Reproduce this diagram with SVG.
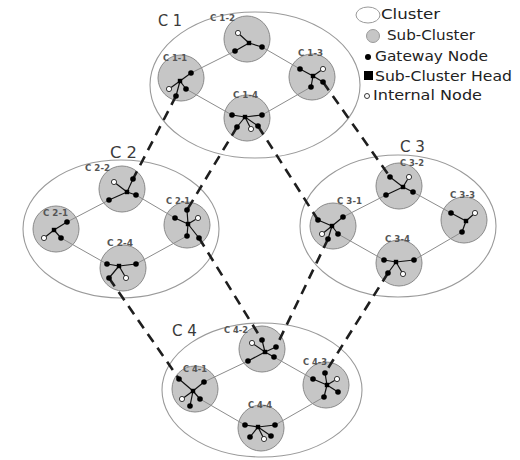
<svg xmlns="http://www.w3.org/2000/svg" width="520" height="460" viewBox="0 0 520 460">
  <style>
    .cluster { fill: #ffffff; stroke: #9a9a9a; stroke-width: 1.1; }
    .sub { fill: #c6c6c6; stroke: #8a8a8a; stroke-width: 1; }
    .clabel { font-family: "DejaVu Sans", Verdana, sans-serif; font-size: 15px; fill: #3a3a3a; }
    .slabel { font-family: "DejaVu Sans", Verdana, sans-serif; font-size: 8.5px; font-weight: bold; fill: #555555; }
    .edge { stroke: #111111; stroke-width: 1.2; fill: none; }
    .link { stroke: #8c8c8c; stroke-width: 1; fill: none; }
    .inter { stroke: #1e1e1e; stroke-width: 2.6; stroke-dasharray: 10 7; fill: none; }
    .gw { fill: #000000; }
    .in { fill: #ffffff; stroke: #222222; stroke-width: 0.9; }
    .head { fill: #000000; }
    .legend { font-family: "DejaVu Sans", Verdana, sans-serif; font-size: 13.5px; fill: #222222; }
  </style>
  <defs>
    <circle id="gw" r="2.8" class="gw"/>
    <circle id="in" r="2.6" class="in"/>
    <rect id="hd" x="-2.2" y="-2.2" width="4.4" height="4.4" class="head"/>
  </defs>

  <rect width="520" height="460" fill="#ffffff"/>

  <!-- clusters -->
  <g id="cluster-c1"><ellipse class="cluster" cx="255" cy="85" rx="105" ry="73"/><text class="clabel" x="158" y="26" textLength="24" lengthAdjust="spacingAndGlyphs">C 1</text></g>
  <g id="cluster-c2"><ellipse class="cluster" cx="121" cy="229" rx="98" ry="69"/><text class="clabel" x="110" y="158" textLength="27" lengthAdjust="spacingAndGlyphs">C 2</text></g>
  <g id="cluster-c3"><ellipse class="cluster" cx="398" cy="226" rx="98" ry="71"/><text class="clabel" x="400" y="152" textLength="25" lengthAdjust="spacingAndGlyphs">C 3</text></g>
  <g id="cluster-c4"><ellipse class="cluster" cx="262" cy="390" rx="100" ry="67"/><text class="clabel" x="172" y="336" textLength="25" lengthAdjust="spacingAndGlyphs">C 4</text></g>

  <!-- sub-cluster circles -->
  <g id="sub-circles">
    <circle class="sub" cx="181" cy="78" r="23"/>
    <circle class="sub" cx="247" cy="39" r="23"/>
    <circle class="sub" cx="312" cy="77" r="23"/>
    <circle class="sub" cx="247" cy="118" r="23"/>
    <circle class="sub" cx="56" cy="229" r="23"/>
    <circle class="sub" cx="122" cy="189" r="23"/>
    <circle class="sub" cx="187" cy="225" r="23"/>
    <circle class="sub" cx="123" cy="268" r="23"/>
    <circle class="sub" cx="399" cy="186" r="23"/>
    <circle class="sub" cx="333" cy="226" r="23"/>
    <circle class="sub" cx="464" cy="220" r="23"/>
    <circle class="sub" cx="399" cy="263" r="23"/>
    <circle class="sub" cx="262" cy="349" r="23"/>
    <circle class="sub" cx="195" cy="389" r="23"/>
    <circle class="sub" cx="326" cy="385" r="23"/>
    <circle class="sub" cx="261" cy="428" r="23"/>
  </g>

  <!-- connectors: links inside clusters and dashed links between clusters -->
  <g id="connectors">
    <line class="link" x1="191" y1="73" x2="235" y2="51"/>
    <line class="link" x1="262" y1="47" x2="300" y2="69"/>
    <line class="link" x1="311" y1="87" x2="262" y2="115"/>
    <line class="link" x1="232" y1="115" x2="186" y2="89"/>

    <line class="link" x1="67" y1="222" x2="109" y2="200"/>
    <line class="link" x1="136" y1="195" x2="175" y2="218"/>
    <line class="link" x1="187" y1="236" x2="136" y2="264"/>
    <line class="link" x1="107" y1="264" x2="61" y2="238"/>

    <line class="link" x1="343" y1="217" x2="386" y2="195"/>
    <line class="link" x1="413" y1="192" x2="451" y2="213"/>
    <line class="link" x1="462" y1="232" x2="414" y2="260"/>
    <line class="link" x1="384" y1="260" x2="338" y2="234"/>

    <line class="link" x1="204" y1="382" x2="248" y2="361"/>
    <line class="link" x1="274" y1="357" x2="313" y2="379"/>
    <line class="link" x1="324" y1="397" x2="275" y2="425"/>
    <line class="link" x1="245" y1="425" x2="200" y2="399"/>

    <line class="inter" x1="176" y1="96" x2="133" y2="179"/>
    <line class="inter" x1="237" y1="127" x2="187" y2="210"/>
    <line class="inter" x1="258" y1="126" x2="318" y2="220"/>
    <line class="inter" x1="323" y1="82" x2="390" y2="177"/>
    <line class="inter" x1="199" y1="238" x2="262" y2="340"/>
    <line class="inter" x1="328" y1="239" x2="276" y2="347"/>
    <line class="inter" x1="109" y1="278" x2="179" y2="379"/>
    <line class="inter" x1="388" y1="273" x2="325" y2="373"/>
  </g>

  <!-- C 1 -->
  <g id="c1-1">
    <text class="slabel" x="163" y="61" textLength="24" lengthAdjust="spacingAndGlyphs">C 1-1</text>
    <path class="edge" d="M180 81L191 73M180 81L169 89M180 81L176 96M180 81L186 89"/>
    <use href="#gw" x="191" y="73"/><use href="#in" x="169" y="89"/><use href="#gw" x="176" y="96"/><use href="#gw" x="186" y="89"/><use href="#hd" x="180" y="81"/>
  </g>
  <g id="c1-2">
    <text class="slabel" x="210" y="21" textLength="25" lengthAdjust="spacingAndGlyphs">C 1-2</text>
    <path class="edge" d="M249 43L238 33M249 43L262 47M249 43L235 51"/>
    <use href="#in" x="238" y="33"/><use href="#gw" x="262" y="47"/><use href="#gw" x="235" y="51"/><use href="#hd" x="249" y="43"/>
  </g>
  <g id="c1-3">
    <text class="slabel" x="298" y="56" textLength="25" lengthAdjust="spacingAndGlyphs">C 1-3</text>
    <path class="edge" d="M313 76L323 69M313 76L300 69M313 76L311 87M313 76L323 82"/>
    <use href="#in" x="323" y="69"/><use href="#gw" x="300" y="69"/><use href="#gw" x="311" y="87"/><use href="#gw" x="323" y="82"/><use href="#hd" x="313" y="76"/>
  </g>
  <g id="c1-4">
    <text class="slabel" x="233" y="98" textLength="25" lengthAdjust="spacingAndGlyphs">C 1-4</text>
    <path class="edge" d="M245 117L232 115M245 117L262 115M245 117L237 127M245 117L251 129M245 117L258 126"/>
    <use href="#gw" x="232" y="115"/><use href="#gw" x="262" y="115"/><use href="#gw" x="237" y="127"/><use href="#in" x="251" y="129"/><use href="#gw" x="258" y="126"/><use href="#hd" x="245" y="117"/>
  </g>

  <!-- C 2 -->
  <g id="c2-1">
    <text class="slabel" x="43" y="216" textLength="25" lengthAdjust="spacingAndGlyphs">C 2-1</text>
    <path class="edge" d="M54 230L67 222M54 230L44 238M54 230L61 238"/>
    <use href="#gw" x="67" y="222"/><use href="#in" x="44" y="238"/><use href="#gw" x="61" y="238"/><use href="#hd" x="54" y="230"/>
  </g>
  <g id="c2-2">
    <text class="slabel" x="85" y="171" textLength="25" lengthAdjust="spacingAndGlyphs">C 2-2</text>
    <path class="edge" d="M127 192L114 182M127 192L133 179M127 192L109 200M127 192L136 195"/>
    <use href="#in" x="114" y="182"/><use href="#gw" x="133" y="179"/><use href="#gw" x="109" y="200"/><use href="#gw" x="136" y="195"/><use href="#hd" x="127" y="192"/>
  </g>
  <g id="c2-1b">
    <text class="slabel" x="166" y="204" textLength="24" lengthAdjust="spacingAndGlyphs">C 2-1</text>
    <path class="edge" d="M188 224L187 210M188 224L198 218M188 224L175 218M188 224L187 236M188 224L199 238"/>
    <use href="#gw" x="187" y="210"/><use href="#in" x="198" y="218"/><use href="#gw" x="175" y="218"/><use href="#gw" x="187" y="236"/><use href="#gw" x="199" y="238"/><use href="#hd" x="188" y="224"/>
  </g>
  <g id="c2-4">
    <text class="slabel" x="107" y="246" textLength="26" lengthAdjust="spacingAndGlyphs">C 2-4</text>
    <path class="edge" d="M119 266L107 264M119 266L136 264M119 266L126 278M119 266L109 278"/>
    <use href="#gw" x="107" y="264"/><use href="#gw" x="136" y="264"/><use href="#in" x="126" y="278"/><use href="#gw" x="109" y="278"/><use href="#hd" x="119" y="266"/>
  </g>

  <!-- C 3 -->
  <g id="c3-1">
    <text class="slabel" x="337" y="204" textLength="25" lengthAdjust="spacingAndGlyphs">C 3-1</text>
    <path class="edge" d="M332 226L318 220M332 226L343 217M332 226L322 234M332 226L338 234M332 226L328 239"/>
    <use href="#gw" x="318" y="220"/><use href="#gw" x="343" y="217"/><use href="#in" x="322" y="234"/><use href="#gw" x="338" y="234"/><use href="#gw" x="328" y="239"/><use href="#hd" x="332" y="226"/>
  </g>
  <g id="c3-2">
    <text class="slabel" x="400" y="166" textLength="24" lengthAdjust="spacingAndGlyphs">C 3-2</text>
    <path class="edge" d="M403 187L390 177M403 187L409 177M403 187L386 195M403 187L413 192"/>
    <use href="#gw" x="390" y="177"/><use href="#in" x="409" y="177"/><use href="#gw" x="386" y="195"/><use href="#gw" x="413" y="192"/><use href="#hd" x="403" y="187"/>
  </g>
  <g id="c3-3">
    <text class="slabel" x="450" y="198" textLength="25" lengthAdjust="spacingAndGlyphs">C 3-3</text>
    <path class="edge" d="M466 221L451 213M466 221L475 213M466 221L462 232"/>
    <use href="#gw" x="451" y="213"/><use href="#in" x="475" y="213"/><use href="#gw" x="462" y="232"/><use href="#hd" x="466" y="221"/>
  </g>
  <g id="c3-4">
    <text class="slabel" x="385" y="242" textLength="25" lengthAdjust="spacingAndGlyphs">C 3-4</text>
    <path class="edge" d="M396 262L384 260M396 262L414 260M396 262L388 273M396 262L403 274"/>
    <use href="#gw" x="384" y="260"/><use href="#gw" x="414" y="260"/><use href="#gw" x="388" y="273"/><use href="#in" x="403" y="274"/><use href="#hd" x="396" y="262"/>
  </g>

  <!-- C 4 -->
  <g id="c4-1">
    <text class="slabel" x="183" y="372" textLength="24" lengthAdjust="spacingAndGlyphs">C 4-1</text>
    <path class="edge" d="M193 391L179 379M193 391L204 382M193 391L182 399M193 391L190 406M193 391L200 399"/>
    <use href="#gw" x="179" y="379"/><use href="#gw" x="204" y="382"/><use href="#in" x="182" y="399"/><use href="#gw" x="190" y="406"/><use href="#gw" x="200" y="399"/><use href="#hd" x="193" y="391"/>
  </g>
  <g id="c4-2">
    <text class="slabel" x="224" y="333" textLength="24" lengthAdjust="spacingAndGlyphs">C 4-2</text>
    <path class="edge" d="M265 352L252 343M265 352L262 340M265 352L276 347M265 352L248 361M265 352L274 357"/>
    <use href="#in" x="252" y="343"/><use href="#gw" x="262" y="340"/><use href="#gw" x="276" y="347"/><use href="#gw" x="248" y="361"/><use href="#gw" x="274" y="357"/><use href="#hd" x="265" y="352"/>
  </g>
  <g id="c4-3">
    <text class="slabel" x="303" y="365" textLength="24" lengthAdjust="spacingAndGlyphs">C 4-3</text>
    <path class="edge" d="M327 385L325 373M327 385L337 379M327 385L313 379M327 385L338 392M327 385L324 397"/>
    <use href="#gw" x="325" y="373"/><use href="#in" x="337" y="379"/><use href="#gw" x="313" y="379"/><use href="#gw" x="338" y="392"/><use href="#gw" x="324" y="397"/><use href="#hd" x="327" y="385"/>
  </g>
  <g id="c4-4">
    <text class="slabel" x="248" y="408" textLength="24" lengthAdjust="spacingAndGlyphs">C 4-4</text>
    <path class="edge" d="M258 427L245 425M258 427L275 425M258 427L250 437M258 427L264 439M258 427L271 436"/>
    <use href="#gw" x="245" y="425"/><use href="#gw" x="275" y="425"/><use href="#gw" x="250" y="437"/><use href="#in" x="264" y="439"/><use href="#gw" x="271" y="436"/><use href="#hd" x="258" y="427"/>
  </g>

  <!-- legend -->
  <g id="legend">
    <ellipse cx="368" cy="15" rx="12" ry="8" fill="#ffffff" stroke="#9a9a9a" stroke-width="1"/>
    <text class="legend" x="381" y="19" textLength="59" lengthAdjust="spacingAndGlyphs">Cluster</text>
    <circle cx="373" cy="36" r="6.5" fill="#c6c6c6" stroke="#9a9a9a" stroke-width="1"/>
    <text class="legend" x="387" y="40" textLength="88" lengthAdjust="spacingAndGlyphs">Sub-Cluster</text>
    <circle cx="368" cy="57" r="3" fill="#000000"/>
    <text class="legend" x="375" y="61" textLength="113" lengthAdjust="spacingAndGlyphs">Gateway Node</text>
    <rect x="364" y="71" width="9" height="9" fill="#000000"/>
    <text class="legend" x="375" y="81" textLength="137" lengthAdjust="spacingAndGlyphs">Sub-Cluster Head</text>
    <circle cx="367" cy="96" r="2.5" fill="#ffffff" stroke="#222222" stroke-width="0.9"/>
    <text class="legend" x="373" y="100" textLength="109" lengthAdjust="spacingAndGlyphs">Internal Node</text>
  </g>
</svg>
